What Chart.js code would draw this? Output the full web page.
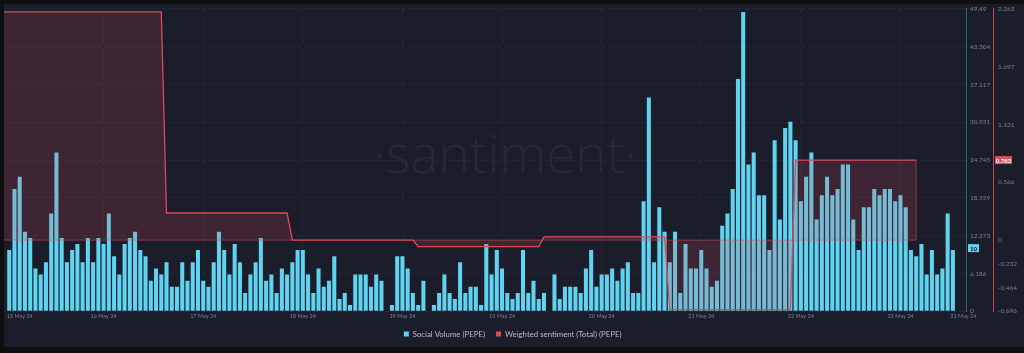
<!DOCTYPE html>
<html>
<head>
<meta charset="utf-8">
<script src="https://cdn.jsdelivr.net/npm/chart.js@4.4.1/dist/chart.umd.min.js"></script>
<style>
  html, body { margin: 0; padding: 0; background: #0f0f11; }
  #wrap { width: 1024px; height: 353px; }
</style>
</head>
<body>
<div id="wrap"><canvas id="chart" width="1024" height="353"></canvas></div>
<script>
// social volume per slot (first slot has no bar, last two are empty)
const volume = [null,
	10, 20, 22, 13, 12, 7, 6, 8, 16, 26,
	12, 8, 10, 11, 8, 12, 8, 12, 11, 16,
	9, 6, 11, 12, 13, 10, 9, 5, 7, 6,
	8, 4, 4, 8, 5, 8, 10, 5, 4, 8,
	13, 10, 6, 11, 8, 3, 6, 8, 12, 5,
	6, 3, 7, 6, 8, 10, 10, 6, 3, 7,
	4, 5, 9, 2, 3, 1, 6, 6, 6, 4,
	6, 5, 0, 1, 9, 9, 7, 3, 1, 5,
	0, 1, 3, 6, 3, 2, 8, 3, 4, 4,
	1, 11, 6, 10, 7, 3, 2, 3, 10, 3,
	5, 2, 3, 0, 6, 2, 4, 4, 4, 3,
	7, 10, 4, 6, 6, 7, 5, 7, 8, 3,
	3, 18, 35, 8, 17, 13, 8, 13, 3, 11,
	7, 7, 10, 7, 4, 5, 14, 16, 20, 38,
	49, 24, 26, 19, 19, 10, 28, 15, 30, 31,
	28, 18, 22, 26, 15, 19, 22, 19, 20, 24,
	24, 15, 10, 17, 17, 20, 19, 20, 20, 18,
	19, 17, 10, 9, 11, 6, 10, 6, 7, 16, 10,
	null, null];

// weighted sentiment per slot
const sentiment = [
	2.234, 2.234, 2.234, 2.234, 2.234, 2.234, 2.234, 2.234, 2.234, 2.234, 2.234, 2.234,
	2.234, 2.234, 2.234, 2.234, 2.234, 2.234, 2.234, 2.234, 2.234, 2.234, 2.234, 2.234,
	2.234, 2.234, 2.234, 2.234, 2.234, 2.234, 2.234,
	0.265, 0.265, 0.265, 0.265, 0.265, 0.265, 0.265, 0.265, 0.265, 0.265, 0.265, 0.265,
	0.265, 0.265, 0.265, 0.265, 0.265, 0.265, 0.265, 0.265, 0.265, 0.265, 0.265, 0.265,
	0, 0, 0, 0, 0, 0, 0, 0, 0, 0, 0, 0,
	0, 0, 0, 0, 0, 0, 0, 0, 0, 0, 0, 0,
	-0.063, -0.063, -0.063, -0.063, -0.063, -0.063, -0.063, -0.063, -0.063, -0.063, -0.063, -0.063,
	-0.063, -0.063, -0.063, -0.063, -0.063, -0.063, -0.063, -0.063, -0.063, -0.063, -0.063, -0.063,
	0.031, 0.031, 0.031, 0.031, 0.031, 0.031, 0.031, 0.031, 0.031, 0.031, 0.031, 0.031,
	0.031, 0.031, 0.031, 0.031, 0.031, 0.031, 0.031, 0.031, 0.031, 0.031, 0.031, 0.031,
	-0.68, -0.68, -0.68, -0.68, -0.68, -0.68, -0.68, -0.68, -0.68, -0.68, -0.68, -0.68,
	-0.68, -0.68, -0.68, -0.68, -0.68, -0.68, -0.68, -0.68, -0.68, -0.68, -0.68, -0.68,
	0.783, 0.783, 0.783, 0.783, 0.783, 0.783, 0.783, 0.783, 0.783, 0.783, 0.783, 0.783,
	0.783, 0.783, 0.783, 0.783, 0.783, 0.783, 0.783, 0.783, 0.783, 0.783, 0.783, 0.783,
	null, null, null, null, null, null, null, null, null];

const volTicks = [0, 6.186, 12.373, 18.559, 24.745, 30.931, 37.117, 43.304, 49.49];
const sentTicks = [-0.696, -0.464, -0.232, 0, 0.566, 1.131, 1.697, 2.263];
const tickIndex = [3, 19, 38, 57, 76, 95, 114, 133, 152, 171, 183];
const tickLabels = ["15 May 24", "16 May 24", "17 May 24", "18 May 24", "19 May 24", "19 May 24",
	"20 May 24", "21 May 24", "22 May 24", "23 May 24", "23 May 24"];
const seriesNames = ["Social Volume (PEPE)", "Weighted sentiment (Total) (PEPE)"];

const slots = volume.map((v, i) => i);
const gridIndex = tickIndex.slice(1, -1);

const CYAN = "#5fd3ef";
const RED = "#dc4a53";
const TICK_COLOR = "#7b7f90";
const GRID_COLOR = "#262a3c";

Chart.defaults.font.family = "Lato, 'Noto Sans', sans-serif";

function lastValue(arr) {
	for (let i = arr.length - 1; i >= 0; i--) {
		if (arr[i] !== null) return { index: i, value: arr[i] };
	}
	return null;
}

const backdrop = {
	id: "backdrop",
	beforeDraw(chart) {
		const ctx = chart.ctx;
		ctx.save();
		ctx.fillStyle = "#0f0f11";
		ctx.fillRect(0, 0, chart.width, chart.height);
		ctx.fillStyle = "#1b1d2b";
		ctx.fillRect(4, 4, chart.width - 4, 343);
		// watermark
		ctx.fillStyle = "#25293c";
		ctx.font = "300 53px 'Open Sans'";
		ctx.textAlign = "center";
		ctx.textBaseline = "alphabetic";
		ctx.fillText("\u00b7santiment\u00b7", 505, 173);
		ctx.restore();
	},
};

const extras = {
	id: "extras",
	afterDatasetsDraw(chart) {
		// outline of the sentiment area along the zero line
		const ctx = chart.ctx;
		const x = chart.scales.x;
		const y1 = chart.scales.y1;
		const last = lastValue(sentiment);
		const y0 = y1.getPixelForValue(0);
		ctx.save();
		ctx.strokeStyle = "rgba(220, 74, 83, 0.55)";
		ctx.lineWidth = 1;
		ctx.beginPath();
		ctx.moveTo(x.getPixelForValue(0), y0);
		ctx.lineTo(x.getPixelForValue(last.index), y0);
		ctx.lineTo(x.getPixelForValue(last.index), y1.getPixelForValue(last.value));
		ctx.stroke();
		ctx.restore();
	},
	afterDraw(chart) {
		const ctx = chart.ctx;
		ctx.save();
		ctx.fillStyle = "#0f0f11";
		ctx.fillRect(0, 0, 4, chart.height);
		ctx.fillRect(0, 0, chart.width, 4);

		// last value badges
		const y = chart.scales.y;
		const y1 = chart.scales.y1;
		const lv = lastValue(volume);
		const ls = lastValue(sentiment);
		ctx.font = "bold 6px Lato";
		ctx.textAlign = "center";
		ctx.textBaseline = "middle";

		let py = y.getPixelForValue(lv.value) - 2;
		ctx.fillStyle = CYAN;
		ctx.fillRect(y.left + 2, py - 4, 11, 8);
		ctx.fillStyle = "#121522";
		ctx.fillText(String(lv.value), y.left + 7.5, py + 0.5);

		py = y1.getPixelForValue(ls.value);
		ctx.fillStyle = "#e0525a";
		ctx.fillRect(y1.left + 2, py - 4, 17, 8);
		ctx.fillStyle = "#ffffff";
		ctx.fillText(String(ls.value), y1.left + 10.5, py + 0.5);
		ctx.restore();
	},
};

new Chart(document.getElementById("chart"), {
	data: {
		labels: slots,
		datasets: [
			{
				type: "bar",
				label: seriesNames[0],
				data: volume,
				yAxisID: "y",
				backgroundColor: CYAN,
				borderWidth: 0,
				categoryPercentage: 1,
				barPercentage: 0.77,
				order: 1,
			},
			{
				type: "line",
				label: seriesNames[1],
				data: sentiment,
				yAxisID: "y1",
				borderColor: RED,
				borderWidth: 1.3,
				backgroundColor: "rgba(222, 76, 88, 0.18)",
				fill: "origin",
				pointRadius: 0,
				tension: 0,
				order: 0,
			},
		],
	},
	options: {
		responsive: false,
		animation: false,
		devicePixelRatio: 1,
		events: [],
		layout: {
			padding: { left: 1.38, right: 0, top: 7, bottom: 5 },
		},
		scales: {
			x: {
				type: "category",
				offset: true,
				grid: {
					offset: false,
					drawTicks: false,
					color: (c) => (gridIndex.includes(c.index) ? GRID_COLOR : "transparent"),
				},
				border: { display: false, dash: [4, 4] },
				ticks: {
					autoSkip: false,
					maxRotation: 0,
					minRotation: 0,
					padding: 2,
					color: TICK_COLOR,
					font: { size: 5.5 },
					callback: (v, i) => {
						const j = tickIndex.indexOf(i);
						return j >= 0 ? tickLabels[j] : "";
					},
				},
				afterFit: (s) => {
					s.height = 8;
				},
			},
			y: {
				position: "right",
				min: 0,
				max: 49.49,
				afterBuildTicks: (s) => {
					s.ticks = volTicks.map((v) => ({ value: v }));
				},
				afterFit: (s) => {
					s.width = 27;
				},
				grid: { color: GRID_COLOR, drawTicks: false },
				border: { display: true, color: "#2e6272", dash: [4, 4] },
				ticks: {
					padding: 4,
					color: TICK_COLOR,
					font: { size: 6.5 },
					callback: (v) => String(v),
				},
			},
			y1: {
				position: "right",
				min: -0.696,
				max: 2.263,
				afterBuildTicks: (s) => {
					s.ticks = sentTicks.map((v) => ({ value: v }));
				},
				afterFit: (s) => {
					s.width = 31;
				},
				grid: { drawOnChartArea: false, drawTicks: false },
				border: { display: true, color: "#c2434c" },
				ticks: {
					padding: 5,
					color: TICK_COLOR,
					font: { size: 6.5 },
					callback: (v) => String(v),
				},
			},
		},
		plugins: {
			tooltip: { enabled: false },
			legend: {
				position: "bottom",
				labels: {
					boxWidth: 5,
					boxHeight: 5,
					padding: 11,
					color: "#b9bcc7",
					font: { size: 7.8 },
					sort: (a, b) => a.datasetIndex - b.datasetIndex,
					generateLabels: (chart) =>
						Chart.defaults.plugins.legend.labels.generateLabels(chart).map((item) => {
							item.fillStyle = item.datasetIndex === 0 ? CYAN : RED;
							item.strokeStyle = "transparent";
							item.lineWidth = 0;
							return item;
						}),
				},
			},
		},
	},
	plugins: [backdrop, extras],
});
</script>
</body>
</html>
